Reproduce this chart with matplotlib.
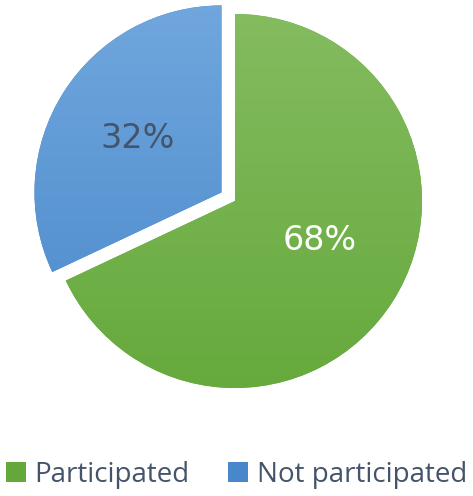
import numpy as np
import matplotlib.pyplot as plt
from matplotlib.colors import LinearSegmentedColormap
from matplotlib.patches import Patch

categories = ["Participated", "Not participated"]
values = [68, 32]
top_colors = ["#86BD62", "#72A8DE"]
bottom_colors = ["#64A83A", "#4787CA"]
label_colors = ["white", "#44546A"]

W, H = 473, 496
fig = plt.figure(figsize=(W / 100, H / 100), dpi=100)
ax = fig.add_axes([0, 0, 1, 1])

cx, cy, R = 235, H - 201, 187
wedges, texts, autotexts = ax.pie(
    values, center=(cx, cy), radius=R, startangle=90, counterclock=False,
    explode=[0, 16], colors=bottom_colors, autopct="%d%%", pctdistance=0.5,
    frame=True, textprops=dict(fontsize=24, family="DejaVu Sans"))
ax.set_xlim(0, W)
ax.set_ylim(0, H)
ax.set_aspect("equal")
ax.axis("off")

for w, ct, cb in zip(wedges, top_colors, bottom_colors):
    cmap = LinearSegmentedColormap.from_list("g", [cb, ct])
    grad = np.linspace(0, 1, 256).reshape(-1, 1)
    y0 = cy - R - 30
    y1 = cy + R + 30
    im = ax.imshow(grad, extent=[cx - R - 40, cx + R + 40, y0, y1], origin="lower",
                   cmap=cmap, aspect="auto", zorder=w.get_zorder() + 0.1)
    im.set_clip_path(w)
ax.set_xlim(0, W)
ax.set_ylim(0, H)

label_pos = [(320, H - 240), (138, H - 138)]
for t, c, p in zip(autotexts, label_colors, label_pos):
    t.set_color(c)
    t.set_position(p)
    t.set_zorder(10)

handles = [Patch(facecolor=c, edgecolor="none") for c in bottom_colors]
leg = fig.legend(handles, categories, loc="lower center", bbox_to_anchor=(0.5, -0.036),
                 ncol=2, frameon=False, handlelength=0.72, handleheight=0.72,
                 handletextpad=0.3, columnspacing=1.4,
                 prop=dict(family="Open Sans", size=20))
for t in leg.get_texts():
    t.set_color("#44546A")

fig.savefig("out.png", dpi=100)
